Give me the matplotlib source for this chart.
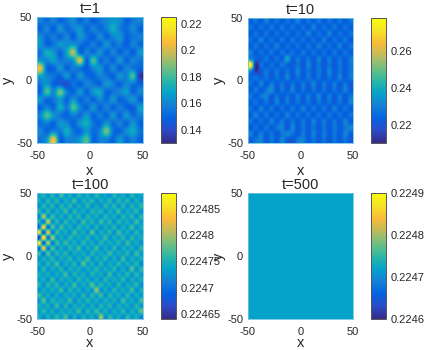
import numpy as np
import matplotlib
matplotlib.use("Agg")
import matplotlib.pyplot as plt
from matplotlib.colors import LinearSegmentedColormap

plt.rcParams['font.family'] = ['Liberation Sans', 'DejaVu Sans']
plt.rcParams['axes.unicode_minus'] = False

# values, t=1 and t=10 in thousandths
grid_t1 = [
    [158,152,160,150,156,162,150,158,148,155,160,165,162,150,156,160],
    [150,160,148,165,152,158,165,150,160,152,158,172,158,152,162,150],
    [162,152,158,150,160,148,165,155,148,162,150,160,165,150,155,158],
    [165,150,155,165,162,166,155,150,158,150,165,152,158,148,160,152],
    [155,172,165,150,170,195,150,160,152,165,150,160,150,158,148,165],
    [165,160,168,155,160,165,200,150,182,152,158,150,165,150,160,155],
    [205,152,150,165,150,158,155,148,160,165,150,162,148,160,155,150],
    [170,160,155,150,165,150,165,152,150,160,155,150,165,158,182,135],
    [155,165,150,148,140,155,148,160,155,150,165,158,150,160,155,150],
    [150,182,160,188,158,150,165,150,165,170,150,155,160,166,150,160],
    [165,150,155,165,150,165,150,158,150,160,152,165,150,155,165,150],
    [150,160,150,172,155,182,160,150,165,150,160,150,158,150,148,166],
    [160,182,165,155,150,158,152,165,150,158,150,165,150,165,152,158],
    [152,158,150,165,160,150,165,172,155,150,165,152,160,150,165,150],
    [160,150,160,155,172,155,150,165,152,160,188,155,150,162,170,155],
    [155,165,205,150,160,158,165,182,150,158,160,150,165,152,160,150],
]
grid_t10 = [
    [222,228,221,231,222,228,221,228,222,231,221,228,222,229,221,228,222,228,221,228],
    [228,221,228,222,229,221,229,222,228,221,228,222,231,221,228,222,229,221,228,222],
    [221,228,221,229,221,228,222,228,221,228,222,231,222,228,222,231,221,228,222,228],
    [228,222,231,222,228,221,229,221,229,222,228,221,228,221,231,221,228,222,229,221],
    [222,229,221,228,222,231,221,228,222,228,221,229,222,231,222,228,222,231,221,228],
    [231,221,228,222,229,221,228,222,228,221,229,222,228,221,228,221,229,221,228,222],
    [232,224,222,229,221,228,222,238,222,229,222,228,221,231,222,229,222,228,222,229],
    [278,210,228,221,228,222,229,224,221,228,221,231,222,228,221,228,221,229,221,228],
    [232,213,221,229,222,229,221,228,222,231,222,228,221,229,222,231,222,228,222,228],
    [224,228,222,228,221,228,222,231,221,228,221,229,222,228,221,228,221,231,221,229],
    [228,221,231,222,229,222,228,221,228,222,229,222,231,221,229,222,229,222,228,221],
    [221,229,222,228,234,221,229,222,231,221,228,221,228,222,228,221,228,221,231,222],
    [229,222,228,231,222,228,221,228,222,229,222,229,222,231,221,229,222,229,221,228],
    [222,228,221,228,221,231,222,229,221,228,221,228,221,228,222,228,221,228,222,231],
    [228,221,231,222,229,221,228,221,229,222,231,222,229,222,229,221,231,222,228,222],
    [222,231,222,229,221,228,222,231,222,228,222,228,221,228,221,229,222,228,221,228],
    [229,222,228,221,231,222,229,222,228,221,229,221,231,222,229,222,228,221,231,222],
    [221,228,221,229,222,228,231,220,231,222,228,222,228,221,228,221,229,222,228,232],
    [231,222,229,222,228,221,228,231,228,221,229,221,231,222,229,222,228,221,231,224],
    [222,228,231,221,228,222,231,222,220,229,231,222,228,221,228,221,228,222,228,221],
]
# t=100 in units of 1e-5 above 0.2246
grid_t100 = [
    [13,16,12,16,12,17,13,15,12,16,13,15,12,16,13,14,12,16,13,15,12,16,13,14],
    [15,12,16,13,16,12,15,13,17,12,15,14,16,12,15,13,16,12,16,13,16,12,15,13],
    [12,16,13,16,12,16,13,16,12,15,13,16,12,15,12,16,13,16,12,16,12,16,13,16],
    [16,12,16,12,15,13,17,12,16,13,15,12,16,14,16,12,15,13,17,12,15,13,16,12],
    [11,21,12,17,13,15,12,16,13,16,12,16,13,15,12,16,13,15,12,16,13,16,12,16],
    [16,10,22,12,16,12,16,13,15,12,17,13,16,12,17,13,16,12,16,13,15,12,17,13],
    [ 9,25, 9,18,12,17,13,15,12,16,13,15,12,16,12,15,13,16,12,15,13,17,12,15],
    [26, 7,24,10,17,13,15,12,17,13,15,12,18,12,15,13,16,12,17,13,15,12,16,13],
    [ 5,27, 9,21,12,15,12,16,13,15,13,16,12,15,13,17,12,15,13,16,12,16,13,15],
    [27, 8,22,10,17,13,17,13,15,12,16,13,15,12,16,13,15,13,16,12,17,13,15,12],
    [ 9,24,10,18,12,15,12,16,13,17,12,15,13,17,12,15,12,16,12,15,13,15,12,16],
    [17,10,18,12,16,13,16,12,15,13,15,12,16,13,15,13,17,13,15,13,16,12,17,13],
    [12,15,13,16,12,15,13,16,12,15,13,17,12,15,13,16,12,15,12,17,12,15,13,15],
    [15,12,16,13,17,12,15,13,16,12,18,13,15,12,16,12,15,13,16,13,15,13,16,12],
    [12,16,12,15,13,16,12,15,13,15,12,15,13,16,13,15,13,16,12,15,12,18,12,16],
    [15,13,15,12,15,13,17,12,16,13,15,12,16,13,15,12,17,12,15,13,16,12,16,13],
    [13,15,12,17,12,15,13,15,12,16,13,15,12,15,12,16,13,15,13,16,12,15,13,15],
    [16,12,16,13,16,12,15,13,17,12,15,13,18,13,16,13,15,12,16,12,15,13,16,12],
    [12,15,13,15,13,17,12,16,13,15,12,15,12,20,12,15,12,16,13,15,13,17,12,15],
    [17,13,15,12,15,12,15,13,15,12,16,12,16,13,17,12,16,13,15,12,16,12,15,13],
    [12,18,12,16,13,15,13,17,12,15,13,16,13,15,12,15,13,15,12,17,13,15,12,17],
    [15,13,15,12,17,12,16,12,15,13,15,12,15,12,16,13,16,12,15,13,15,12,16,13],
    [13,16,13,15,12,15,13,15,13,17,12,16,13,17,13,15,12,15,13,16,12,15,13,18],
    [15,12,15,13,16,13,17,12,15,12,15,13,15,12,20,12,16,13,15,12,16,13,15,12],
]
value_t500 = [[0.22472]]

titles = ["t=1", "t=10", "t=100", "t=500"]
clims = [(0.130, 0.225), (0.210, 0.278), (0.22464, 0.22488), (0.2246, 0.2249)]
cticks = [[0.14, 0.16, 0.18, 0.2, 0.22],
          [0.22, 0.24, 0.26],
          [0.22465, 0.2247, 0.22475, 0.2248, 0.22485],
          [0.2246, 0.2247, 0.2248, 0.2249]]
clabels = [["0.14", "0.16", "0.18", "0.2", "0.22"],
           ["0.22", "0.24", "0.26"],
           ["0.22465", "0.2247", "0.22475", "0.2248", "0.22485"],
           ["0.2246", "0.2247", "0.2248", "0.2249"]]
grids = [np.array(grid_t1) / 1000,
         np.array(grid_t10) / 1000,
         0.2246 + np.array(grid_t100) * 1e-5,
         np.array(value_t500)]

parula = LinearSegmentedColormap.from_list("parula", [
    (0.2081, 0.1663, 0.5292), (0.1707, 0.2919, 0.7792), (0.0117, 0.3875, 0.8820),
    (0.0779, 0.5040, 0.8384), (0.0231, 0.6418, 0.7913), (0.1801, 0.7177, 0.6424),
    (0.4420, 0.7480, 0.5030), (0.7500, 0.7380, 0.3600), (0.9800, 0.7300, 0.2200),
    (0.9600, 0.8900, 0.1500), (0.9763, 0.9831, 0.0538)])

W, H = 425, 350
# left, right, top, bottom in pixels
boxes = [(37, 143, 17, 143), (248, 353, 18, 143), (37, 143, 193, 319), (248, 353, 193, 319)]
cboxes = [(161, 176, 17, 143), (371, 386, 18, 143), (161, 176, 193, 319), (371, 386, 193, 319)]
# distance from the axes bottom to the middle of the x label, pixels
xlabel_gap = [28, 28, 24, 24]

def to_fig(box):
    l, r, t, b = box
    return [l / W, 1 - b / H, (r - l) / W, (b - t) / H]

fig = plt.figure(figsize=(W / 100, H / 100), dpi=100)
for i in range(4):
    ax = fig.add_axes(to_fig(boxes[i]))
    im = ax.imshow(grids[i], cmap=parula, vmin=clims[i][0], vmax=clims[i][1], origin="upper",
                   extent=(-50, 50, -50, 50), aspect="auto", interpolation="catrom")
    ax.set_xticks([-50, 0, 50])
    ax.set_yticks([-50, 0, 50])
    ax.tick_params(length=0, labelsize=8, colors="#262626")
    ax.tick_params(axis="x", pad=6)
    ax.tick_params(axis="y", pad=3.5)
    ax.set_xlabel("x", fontsize=10.5, color="#262626", va="center")
    ax.xaxis.set_label_coords(0.5, -xlabel_gap[i] / (boxes[i][3] - boxes[i][2]))
    ax.set_ylabel("y", fontsize=10.5, labelpad=1, color="#262626")
    ax.set_title(titles[i], fontsize=10.5, pad=3, color="#262626")
    for s in ax.spines.values():
        s.set_color("#6fc4e0")
        s.set_linewidth(0.6)

    cax = fig.add_axes(to_fig(cboxes[i]))
    cb = fig.colorbar(im, cax=cax)
    cb.set_ticks(cticks[i])
    cb.set_ticklabels(clabels[i])
    cb.ax.tick_params(length=0, labelsize=8, pad=3, colors="#262626")
    cb.outline.set_edgecolor("#555555")
    cb.outline.set_linewidth(0.7)

fig.savefig("out.png", dpi=100)
